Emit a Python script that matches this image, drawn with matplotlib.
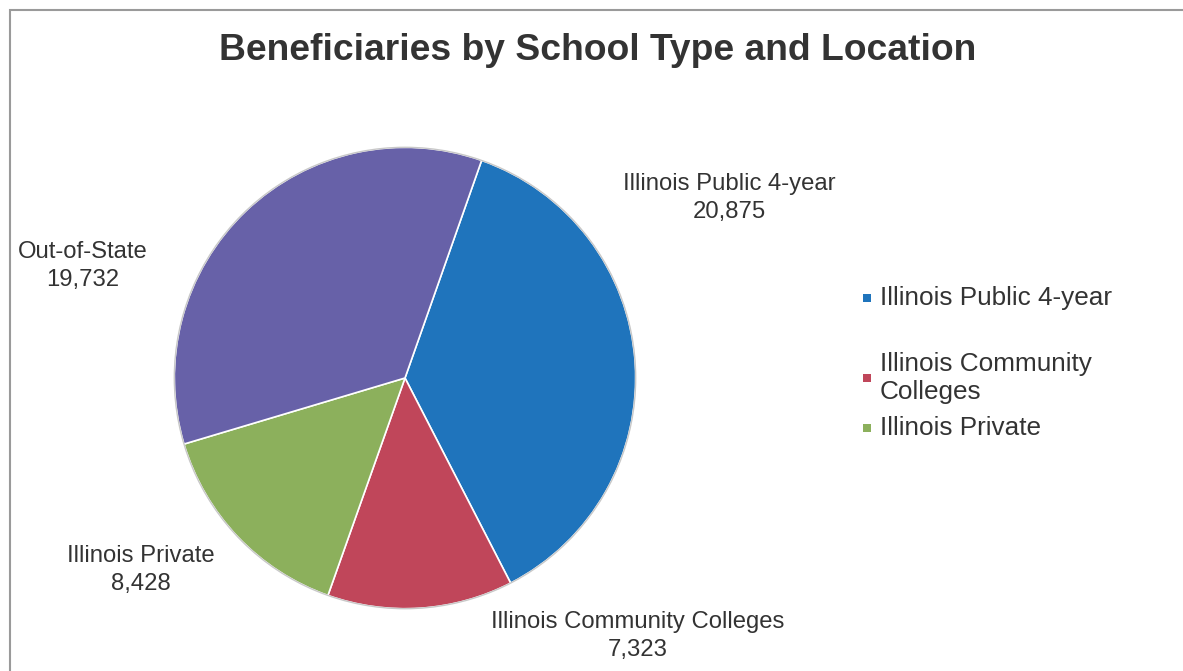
import matplotlib
matplotlib.use("Agg")
import matplotlib.pyplot as plt
from matplotlib.patches import Rectangle

categories = ["Illinois Public 4-year", "Illinois Community Colleges", "Illinois Private", "Out-of-State"]
values = [20875, 7323, 8428, 19732]
value_labels = ["20,875", "7,323", "8,428", "19,732"]
colors = ["#1f74bc", "#c0465a", "#8cb05c", "#6761a8"]
legend_items = ["Illinois Public 4-year", "Illinois Community\nColleges", "Illinois Private"]

plt.rcParams['font.family'] = ['Liberation Sans', 'DejaVu Sans']
W, H = 1183, 671
fig = plt.figure(figsize=(W / 100, H / 100), dpi=100)
fig.patch.set_facecolor("white")

def fx(px):
    return px / W

def fy(py):
    return 1 - py / H

# frame
fig.patches.append(Rectangle((fx(10), fy(700)), fx(1190) - fx(10), fy(10) - fy(700),
                             transform=fig.transFigure, fill=False, edgecolor="#9a9a9a", lw=1.5))

cx, cy, r = 405, 378, 233
ax = fig.add_axes([fx(cx - r), fy(cy + r), (2 * r) / W, (2 * r) / H])
wedges, _ = ax.pie(values, colors=colors, startangle=70.6, counterclock=False, radius=1,
                   wedgeprops=dict(edgecolor="white", linewidth=1.2))
ax.add_patch(plt.Circle((0, 0), 1.0, fill=False, edgecolor="#c8c8c8", lw=1.0))
ax.set_xlim(-1.01, 1.01)
ax.set_ylim(-1.01, 1.01)
ax.axis("off")

fig.text(fx(598), fy(50), "Beneficiaries by School Type and Location", ha="center", va="center",
         fontsize=26.8, fontweight="bold", color="#333333")

label_pos = [(729, 198), (638, 636), (141, 570), (83, 266)]
for cat, vl, (px, py) in zip(categories, value_labels, label_pos):
    fig.text(fx(px), fy(py), f"{cat}\n{vl}", ha="center", va="center", fontsize=17.2,
             color="#333333", linespacing=1.33)

leg_y = [298, 378, 428]
for i, (txt, py) in enumerate(zip(legend_items, leg_y)):
    fig.patches.append(Rectangle((fx(863), fy(py + 4)), fx(8), fy(0) - fy(8),
                                 transform=fig.transFigure, facecolor=colors[i], edgecolor="none"))
    fig.text(fx(880), fy(py), txt, ha="left", va="center", fontsize=18.8, color="#333333",
             linespacing=1.18)

fig.savefig("out.png", dpi=100)
